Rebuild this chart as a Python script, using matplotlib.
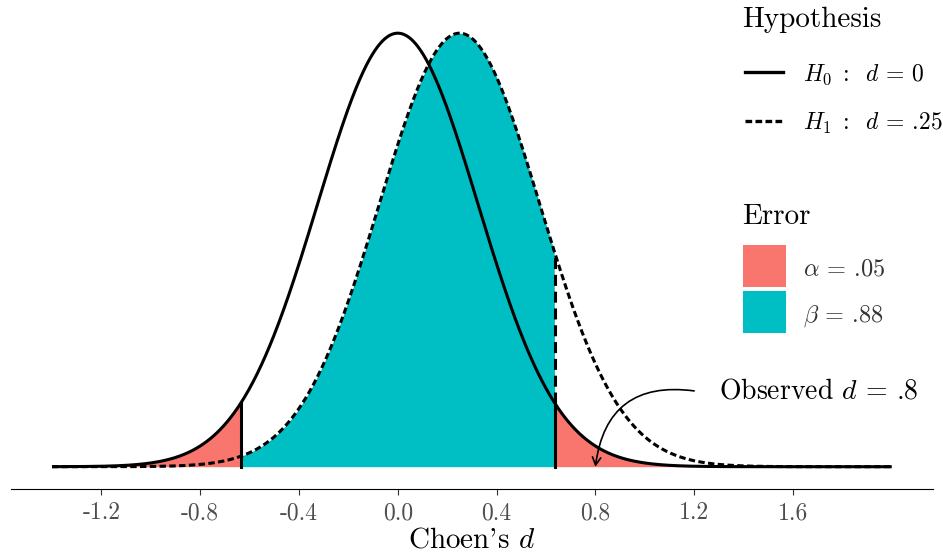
import matplotlib.pyplot as plt
from matplotlib.lines import Line2D
from matplotlib.patches import Rectangle
import numpy as np

plt.rcParams['font.family'] = 'serif'
plt.rcParams['font.serif'] = ['cmr10']
plt.rcParams['mathtext.fontset'] = 'cm'
plt.rcParams['axes.unicode_minus'] = False

# sampling distributions of Cohen's d (n = 19 per group)
d_null = 0.0
d_alt = 0.25
se_d = 0.3244
z_crit = 1.959964
x_range = [-1.4, 2.0]
d_observed = 0.8
alpha_label = '.05'
beta_label = '.88'

ticks = [-1.2, -0.8, -0.4, 0.0, 0.4, 0.8, 1.2, 1.6]
tick_labels = ['-1.2', '-0.8', '-0.4', '0.0', '0.4', '0.8', '1.2', '1.6']

RED = '#F8766D'
TEAL = '#00BFC4'
W, H = 943, 560
DOTTED = (0, (2.1, 1.1))


def dnorm(x, mu, sd):
    return np.exp(-0.5 * ((x - mu) / sd) ** 2) / (sd * np.sqrt(2 * np.pi))


def px(x, y):
    # pixel position (from top-left) to figure fraction
    return x / W, 1 - y / H


def main():
    fig = plt.figure(figsize=(W / 100, H / 100), dpi=100)
    ax = fig.add_axes([11 / W, 71.3 / H, 922 / W, 475.7 / H])

    crit = z_crit * se_d
    x = np.linspace(x_range[0], x_range[1], 1200)
    y0 = dnorm(x, d_null, se_d)
    y1 = dnorm(x, d_alt, se_d)

    # alpha tails under H0, beta region under H1
    ax.fill_between(x, 0, y0, where=x <= -crit, color=RED, lw=0, interpolate=True)
    ax.fill_between(x, 0, y0, where=x >= crit, color=RED, lw=0, interpolate=True)
    ax.fill_between(x, 0, y1, where=(x >= -crit) & (x <= crit), color=TEAL, lw=0,
                    interpolate=True)

    ax.plot(x, y0, color='black', lw=2.2, solid_capstyle='butt')
    ax.plot(x, y1, color='black', lw=2.2, linestyle=DOTTED)

    h0_lo = dnorm(-crit, d_null, se_d)
    h0_hi = dnorm(crit, d_null, se_d)
    h1_hi = dnorm(crit, d_alt, se_d)
    ax.plot([-crit, -crit], [0, h0_lo], color='black', lw=2.2)
    ax.plot([crit, crit], [0, h0_hi], color='black', lw=2.2)
    ax.plot([crit, crit], [h0_hi, h1_hi], color='black', lw=2.2,
            linestyle=(0, (3.6, 1.9)))

    # observed effect annotation
    ax.annotate('', xy=(d_observed, 0), xytext=(1.2, 0.215),
                arrowprops=dict(arrowstyle='->,head_length=0.55,head_width=0.3',
                                connectionstyle='arc3,rad=0.5', lw=1.2,
                                color='black', shrinkA=0, shrinkB=0))
    ax.text(1.30, 0.215, r'Observed $d$ = .8', fontsize=20, ha='left',
            va='center')

    ax.set_xlim(-1.566, 2.167)
    ax.set_ylim(-0.0624, 1.287)
    for side in ['top', 'right', 'left']:
        ax.spines[side].set_visible(False)
    ax.spines['bottom'].set_linewidth(0.8)
    ax.set_yticks([])
    ax.set_xticks(ticks)
    ax.set_xticklabels(tick_labels)
    ax.tick_params(axis='x', length=4.5, width=0.8, color='#333333',
                   labelcolor='#4D4D4D', labelsize=17, pad=5)
    ax.set_xlabel(r"Choen's $d$", fontsize=21, labelpad=2)

    # hypothesis legend
    fig.text(*px(742, 27.3), 'Hypothesis', fontsize=21, va='baseline')
    fig.add_artist(Line2D([745 / W, 783 / W], [1 - 72.3 / H] * 2, color='black',
                          lw=2.4, transform=fig.transFigure))
    fig.add_artist(Line2D([745 / W, 783 / W], [1 - 120.7 / H] * 2, color='black',
                          lw=2.4, linestyle=(0, (2.0, 1.0)),
                          transform=fig.transFigure))
    fig.text(*px(803, 81), r'$H_0\;:\;\ d$ = 0', fontsize=17, va='baseline')
    fig.text(*px(803, 130), r'$H_1\;:\;\ d$ = .25', fontsize=17, va='baseline')

    # error legend
    fig.text(*px(742, 224.3), 'Error', fontsize=21, va='baseline')
    fig.add_artist(Rectangle(px(743, 287.3), 42.7 / W, 42.3 / H, color=RED,
                             lw=0, transform=fig.transFigure))
    fig.add_artist(Rectangle(px(743, 333.3), 42.7 / W, 42.3 / H, color=TEAL,
                             lw=0, transform=fig.transFigure))
    fig.text(*px(803, 276), r'$\alpha$ = ' + alpha_label, fontsize=17.5,
             va='baseline', color='#333333')
    fig.text(*px(803, 321.7), r'$\beta$ = ' + beta_label, fontsize=17.5,
             va='baseline', color='#333333')

    fig.savefig('out.png', dpi=100)


if __name__ == '__main__':
    main()
